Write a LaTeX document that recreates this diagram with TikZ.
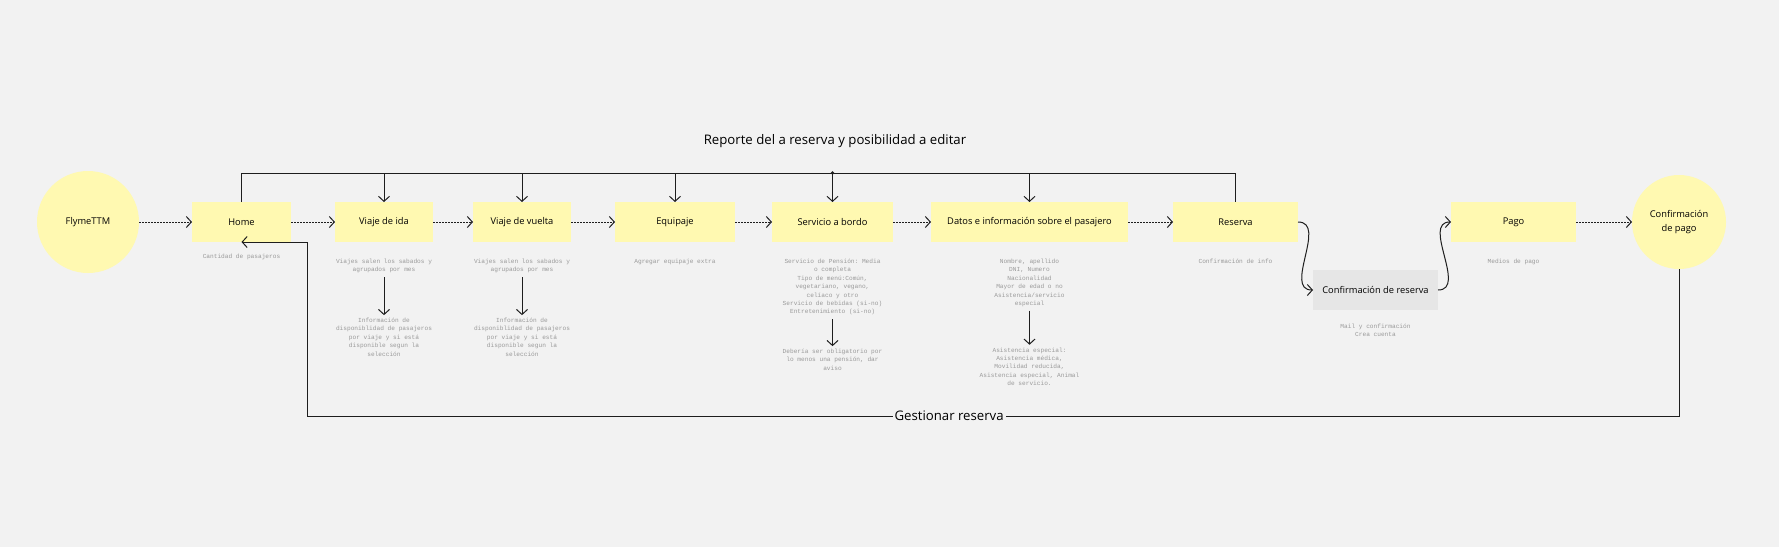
\documentclass[tikz,border=0pt]{standalone}
\usepackage{fontspec}
\setmainfont{Open Sans}
\setmonofont{Liberation Mono}
\usetikzlibrary{arrows.meta,positioning}
\definecolor{fondo}{HTML}{F2F2F2}
\definecolor{amarillo}{HTML}{FFF9B1}
\definecolor{gris}{HTML}{E6E6E6}
\definecolor{nota}{HTML}{9A9A9A}
\definecolor{linea}{HTML}{1E1E1E}

\begin{document}
\begin{tikzpicture}[x=1pt,y=-1pt,>={Straight Barb[length=5pt,width=11pt]},line width=1pt,draw=linea,outer sep=0pt,
    paso/.style={fill=amarillo,minimum height=40pt,inner sep=0pt,font=\fontsize{9.3}{11}\selectfont},
    hito/.style={circle,fill=amarillo,inner sep=0pt,align=center,font=\fontsize{9.3}{14}\selectfont},
    nota/.style={text=nota,align=center,inner sep=0pt,font=\ttfamily\fontsize{6.15}{8.4}\selectfont},
    flujo/.style={->,dash pattern=on 2pt off 1pt},
    titulo/.style={font=\fontsize{13.2}{16}\selectfont}]

            \fill[fondo] (0,0) rectangle (1779,547);

            \node[hito,minimum size=102pt] (flyme) at (88,222) {FlymeTTM};

            \node[paso,minimum width=99pt] (home) [right=53pt of flyme] {Home};

            \node[paso,minimum width=98pt] (ida) [right=44pt of home] {Viaje de ida};

            \node[paso,minimum width=98pt] (vuelta) [right=40pt of ida] {Viaje de vuelta};

            \node[paso,minimum width=120pt] (equipaje) [right=44pt of vuelta] {Equipaje};

            \node[paso,minimum width=121pt] (servicio) [right=37pt of equipaje] {Servicio a bordo};

            \node[paso,minimum width=197pt] (datos) [right=38pt of servicio] {Datos e información sobre el pasajero};

            \node[paso,minimum width=125pt] (reserva) [right=45pt of datos] {Reserva};

            \node[paso,fill=gris,minimum width=125pt] (confreserva) [below right=28pt and 15pt of reserva] {Confirmación de reserva};

            \node[paso,minimum width=125pt] (pago) [right=153pt of reserva] {Pago};

            \node[hito,minimum size=94pt] (confpago) [right=56pt of pago] {Confirmación\\de pago};

            % notas
            \node[nota] (n-home) [below=12pt of home] {Cantidad de pasajeros};

            \node[nota] (n-ida) [below=17pt of ida] {Viajes salen los sabados y\\agrupados por mes};

            \node[nota] (n-ida2) [below=45pt of n-ida] {Información de\\disponiblidad de pasajeros\\por viaje y si está\\disponible segun la\\selección};

            \node[nota] (n-vuelta) [below=17pt of vuelta] {Viajes salen los sabados y\\agrupados por mes};

            \node[nota] (n-vuelta2) [below=45pt of n-vuelta] {Información de\\disponiblidad de pasajeros\\por viaje y si está\\disponible segun la\\selección};

            \node[nota] (n-equipaje) [below=17pt of equipaje] {Agregar equipaje extra};

            \node[nota] (n-servicio) [below=17pt of servicio] {Servicio de Pensión: Media\\o completa\\Tipo de menú:Común,\\vegetariano, vegano,\\celíaco y otro\\Servicio de bebidas (si-no)\\Entretenimiento (si-no)};

            \node[nota] (n-servicio2) [below=34pt of n-servicio] {Debería ser obligatorio por\\lo menos una pensión, dar\\aviso};

            \node[nota] (n-datos) [below=17pt of datos] {Nombre, apellido\\DNI, Numero\\Nacionalidad\\Mayor de edad o no\\Asistencia/servicio\\especial};

            \node[nota] (n-datos2) [below=41pt of n-datos] {Asistencia especial:\\Asistencia médica,\\Movilidad reducida,\\Asistencia especial, Animal\\de servicio.};

            \node[nota] (n-reserva) [below=17pt of reserva] {Confirmación de info};

            \node[nota] (n-confreserva) [below=14pt of confreserva] {Mail y confirmación\\Crea cuenta};

            \node[nota] (n-pago) [below=17pt of pago] {Medios de pago};

            \node[titulo] (reporte) at (835,141) {Reporte del a reserva y posibilidad a editar};

            \coordinate (arriba) at (0,173);
            \coordinate (abajo) at (307,416);

            \path[flujo] (flyme) edge (home)
                         (home) edge (ida)
                         (ida) edge (vuelta)
                         (vuelta) edge (equipaje)
                         (equipaje) edge (servicio)
                         (servicio) edge (datos)
                         (datos) edge (reserva)
                         (pago) edge (confpago);

            \path[->] (reserva.east) edge [out=0,in=180,looseness=1.1] (confreserva.west)
                      (confreserva.east) edge [out=0,in=180,looseness=1.1] (pago.west);

            \path[->,shorten <=4pt,shorten >=3pt] (n-ida) edge (n-ida2)
                      (n-vuelta) edge (n-vuelta2)
                      (n-servicio) edge (n-servicio2)
                      (n-datos) edge (n-datos2);

            % lazo superior
            \draw (home.north) |- (reserva.north |- arriba) -- (reserva.north);
            \foreach \n in {ida,vuelta,equipaje,servicio,datos}
                \draw[->] (\n.north |- arriba) -- (\n.north);
            \fill[linea] (servicio.north |- arriba) circle (1.8pt);

            % lazo inferior
            \draw[->] (confpago.south) |- node[pos=0.766,fill=fondo,inner sep=2pt,font=\fontsize{13.2}{16}\selectfont] {Gestionar reserva} (abajo) |- (home.south);

        \end{tikzpicture}
\end{document}
